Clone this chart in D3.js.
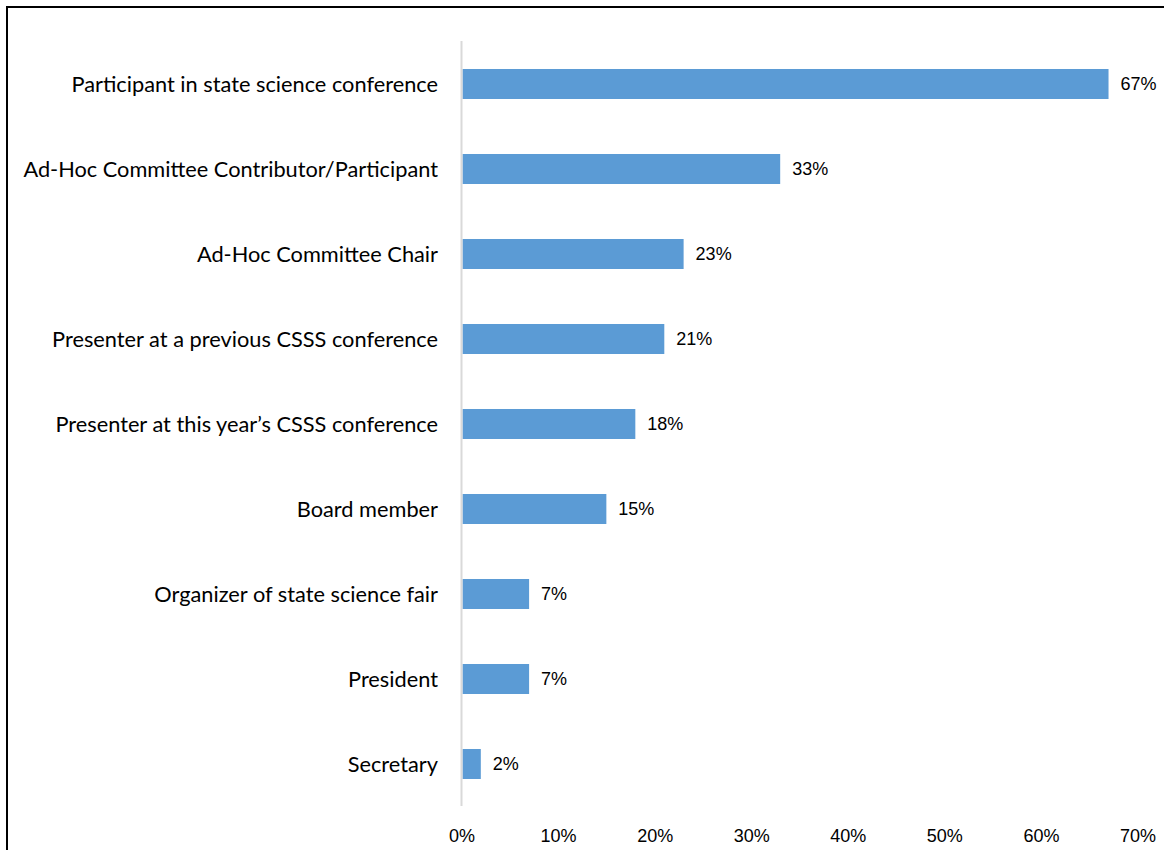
<!DOCTYPE html>
<html><head><meta charset="utf-8">
<script src="https://cdn.jsdelivr.net/npm/d3@7/dist/d3.min.js"></script>
<style>body{margin:0;background:#fff}</style>
</head><body>
<svg id="chart" width="1164" height="850"></svg>
<script>
const categories = [
  "Participant in state science conference",
  "Ad-Hoc Committee Contributor/Participant",
  "Ad-Hoc Committee Chair",
  "Presenter at a previous CSSS conference",
  "Presenter at this year\u2019s CSSS conference",
  "Board member",
  "Organizer of state science fair",
  "President",
  "Secretary"
];
const values = [67, 33, 23, 21, 18, 15, 7, 7, 2];
const tickValues = [0, 10, 20, 30, 40, 50, 60, 70];

const svg = d3.select("#chart");
// frame
svg.append("path").attr("d","M7,851 V7 H1165").attr("fill","none").attr("stroke","#000").attr("stroke-width",2);

const x = d3.scaleLinear().domain([0,70]).range([461.5,1137.5]);
const y = d3.scaleBand().domain(categories).range([41.5,806.5]).paddingInner(0.647).paddingOuter(0.3235);

// bars
svg.selectAll("rect.bar").data(values).join("rect")
  .attr("class","bar")
  .attr("x", x(0)+1)
  .attr("y", (d,i)=>y(categories[i]))
  .attr("width", d=>x(d)-x(0)-1)
  .attr("height", y.bandwidth())
  .attr("fill","#5B9BD5");

// zero axis line
svg.append("line").attr("x1",x(0)).attr("x2",x(0)).attr("y1",41).attr("y2",806)
  .attr("stroke","#D9D9D9").attr("stroke-width",2);

// category labels
const lab = svg.selectAll("text.cat").data(categories).join("text")
  .attr("class","cat")
  .attr("x", 438)
  .attr("y", d=>y(d)+y.bandwidth()/2)
  .attr("dy","0.35em")
  .attr("text-anchor","end")
  .attr("font-family","Lato, 'Open Sans', sans-serif")
  .attr("font-size",20)
  .attr("fill","#000")
  .text(d=>d);
// fit longest label width to reference (~415px)
let maxW = 0; lab.each(function(){maxW=Math.max(maxW,this.getComputedTextLength());});
const fs = 20*415/maxW;
lab.attr("font-size", fs);

// value labels
svg.selectAll("text.val").data(values).join("text")
  .attr("class","val")
  .attr("x", d=>x(d)+12)
  .attr("y", (d,i)=>y(categories[i])+y.bandwidth()/2)
  .attr("dy","0.35em")
  .attr("font-family","'Liberation Sans', Arial, sans-serif")
  .attr("font-size",18)
  .attr("fill","#000")
  .text(d=>d+"%");

// x axis tick labels
const ax = svg.append("g").attr("transform","translate(0,835.5)")
  .call(d3.axisBottom(x).tickValues(tickValues).tickFormat(d=>d+"%").tickSize(0).tickPadding(0));
ax.select(".domain").remove();
ax.selectAll("text").attr("font-family","'Liberation Sans', Arial, sans-serif").attr("font-size",18).attr("fill","#000").attr("dy","0.35em");
</script>
</body></html>
